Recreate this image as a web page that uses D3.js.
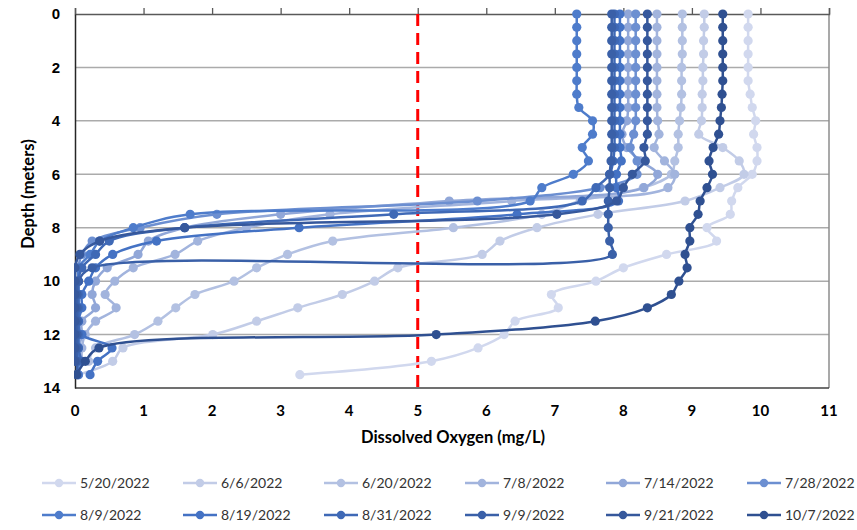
<!DOCTYPE html>
<meta charset="utf-8">
<style>
body { margin: 0; background: #fff; }
svg { font-family: Lato, "Open Sans", sans-serif; }
.tick text { font-size: 15px; fill: #000; font-weight: bold; }
.xlab { font-size: 15px; font-weight: bold; }
.title { font-size: 16.5px; font-weight: bold; }
.legend text { font-size: 14px; fill: #333; }
</style>
<svg width="857" height="530"></svg>
<script src="https://cdn.jsdelivr.net/npm/d3@7"></script>
<script>

// depth of each reading (m)
var depths = [0, 0.5, 1, 1.5, 2, 2.5, 3, 3.5, 4, 4.5, 5, 5.5, 6, 6.5, 7, 7.5, 8, 8.5, 9, 9.5, 10, 10.5, 11, 11.5, 12, 12.5, 13, 13.5];

var dates = ["5/20/2022", "6/6/2022", "6/20/2022", "7/8/2022", "7/14/2022", "7/28/2022",
             "8/9/2022", "8/19/2022", "8/31/2022", "9/9/2022", "9/21/2022", "10/7/2022"];

// dissolved oxygen (mg/L) per sampling date, read top to bottom
var do_0520 = [9.82, 9.82, 9.82, 9.82, 9.82, 9.82, 9.85, 9.88, 9.93, 9.9, 9.95, 9.95, 9.88, 9.67, 9.58, 9.56, 9.22, 9.36, 8.63, 8.0, 7.6, 6.95, 7.05, 6.42, 6.26, 5.88, 5.2, 3.28];
var do_0606 = [9.18, 9.18, 9.17, 9.17, 9.16, 9.16, 9.15, 9.15, 9.14, 9.1, 9.45, 9.69, 9.76, 9.41, 8.9, 7.63, 6.74, 6.2, 5.94, 4.71, 4.37, 3.9, 3.25, 2.65, 2.01, 0.7, 0.55, 0.05];
var do_0620 = [8.86, 8.86, 8.86, 8.86, 8.85, 8.85, 8.85, 8.84, 8.82, 8.8, 8.8, 8.75, 8.7, 8.29, 7.37, 6.81, 5.52, 3.76, 3.1, 2.65, 2.32, 1.75, 1.47, 1.21, 0.87, 0.3, 0.2];
var do_0708 = [8.49, 8.49, 8.49, 8.49, 8.49, 8.49, 8.49, 8.49, 8.5, 8.52, 8.45, 8.6, 8.75, 8.65, 6.37, 3.72, 2.5, 1.79, 1.46, 0.85, 0.58, 0.44, 0.6, 0.3, 0.15, 0.1, 0.1];
var do_0714 = [8.07, 8.07, 8.07, 8.07, 8.07, 8.07, 8.07, 8.07, 8.05, 7.98, 8.05, 8.25, 8.5, 8.3, 5.46, 3.0, 1.6, 1.07, 0.92, 0.47, 0.3, 0.25, 0.3, 0.1, 0.1, 0.05];
var do_0728 = [8.18, 8.18, 8.18, 8.18, 8.18, 8.18, 8.18, 8.18, 8.18, 8.15, 8.1, 8.2, 8.2, 7.66, 5.87, 2.07, 0.95, 0.25, 0.1, 0.05, 0.05, 0.05, 0.05, 0.05, 0.05, 0.05, 0.05, 0.05];
var do_0809 = [7.32, 7.32, 7.32, 7.32, 7.32, 7.32, 7.32, 7.35, 7.55, 7.55, 7.4, 7.49, 7.27, 6.81, 6.64, 1.68, 0.85, 0.36, 0.22, 0.05, 0.05, 0.05, 0.05, 0.05, 0.05, 0.05, 0.05, 0.05];
var do_0819 = [7.95, 7.95, 7.95, 7.95, 7.95, 7.95, 7.95, 7.95, 7.95, 7.95, 7.95, 7.97, 7.9, 7.9, 7.93, 6.45, 3.27, 1.19, 0.55, 0.3, 0.2, 0.1, 0.1, 0.05, 0.1, 0.54, 0.33, 0.22];
var do_0831 = [7.87, 7.87, 7.87, 7.87, 7.87, 7.87, 7.87, 7.87, 7.87, 7.87, 7.87, 7.85, 7.8, 7.6, 7.4, 4.65, 1.6, 0.5, 0.3, 0.1, 0.05, 0.05, 0.05, 0.05, 0.05, 0.05, 0.1];
var do_0909 = [7.83, 7.83, 7.83, 7.83, 7.83, 7.83, 7.83, 7.83, 7.83, 7.83, 7.83, 7.82, 7.8, 7.8, 7.78, 7.78, 7.78, 7.8, 7.84, 0.25, 0.05, 0.03, 0.03, 0.03, 0.03, 0.03, 0.03, 0.03];
var do_0921 = [8.35, 8.35, 8.35, 8.35, 8.35, 8.35, 8.35, 8.35, 8.35, 8.35, 8.3, 8.32, 8.13, 8.0, 7.9, 7.03, 1.6, 0.36, 0.07, 0.0, 0.0, 0.0, 0.0, 0.0, 0.0, 0.0, 0.0];
var do_1007 = [9.45, 9.45, 9.45, 9.45, 9.45, 9.45, 9.44, 9.43, 9.41, 9.39, 9.31, 9.25, 9.3, 9.22, 9.12, 9.09, 8.97, 8.97, 8.9, 8.93, 8.81, 8.7, 8.35, 7.59, 5.27, 0.35, 0.15, 0.02];

var profiles = [do_0520, do_0606, do_0620, do_0708, do_0714, do_0728,
                do_0809, do_0819, do_0831, do_0909, do_0921, do_1007];

var colors = ["#D1D8EE", "#C2CCE7", "#B3C1E2", "#A2B4DD", "#91A7D8", "#6C8FD1",
              "#4E7CCB", "#4472C4", "#3F69B6", "#3A60A8", "#36589C", "#2F5091"];

var xTicks = d3.range(0, 12),
    yTicks = d3.range(0, 15, 2);

var threshold = 5;

var svg = d3.select("svg"),
    margin = {top: 14, right: 28, bottom: 142, left: 75},
    width = +svg.attr("width") - margin.left - margin.right,
    height = +svg.attr("height") - margin.top - margin.bottom;

var x = d3.scaleLinear().domain([0, 11]).range([0, width]),
    y = d3.scaleLinear().domain([0, 14]).range([0, height]);

svg.append("clipPath").attr("id", "plot")
  .append("rect").attr("x", -1).attr("y", -6).attr("width", width + 2).attr("height", height + 7);

var g = svg.append("g")
    .attr("transform", "translate(" + margin.left + "," + margin.top + ")");

// horizontal gridlines
g.selectAll(".grid")
    .data(yTicks.slice(1, -1))
  .enter().append("line")
    .attr("x1", 0).attr("x2", width)
    .attr("y1", function(d) { return y(d); })
    .attr("y2", function(d) { return y(d); })
    .attr("stroke", "#ABABAB")
    .attr("stroke-width", 1.5);

// frame: right and bottom
g.append("line").attr("x1", width).attr("x2", width).attr("y1", 0).attr("y2", height)
    .attr("stroke", "#8C8C8C").attr("stroke-width", 1.5);
g.append("line").attr("x1", 0).attr("x2", width).attr("y1", height).attr("y2", height)
    .attr("stroke", "#404040").attr("stroke-width", 1.5);

// x axis sits on top (ticks pointing up), labels drawn at the bottom
var xAxis = g.append("g")
    .call(d3.axisTop(x).tickValues(xTicks).tickSize(6).tickFormat(""));
xAxis.select(".domain").attr("stroke", "#595959").attr("stroke-width", 1.5);
xAxis.selectAll(".tick line").attr("stroke", "#595959").attr("stroke-width", 1.3);

g.selectAll(".xlab")
    .data(xTicks)
  .enter().append("text")
    .attr("class", "xlab")
    .attr("x", function(d) { return x(d); })
    .attr("y", height + 28)
    .attr("text-anchor", "middle")
    .text(function(d) { return d; });

var yAxis = g.append("g")
    .call(d3.axisLeft(y).tickValues(yTicks).tickSize(0).tickPadding(15));
yAxis.select(".domain").attr("stroke", "#262626").attr("stroke-width", 1.5);

// dashed threshold
g.append("line")
    .attr("x1", x(threshold)).attr("x2", x(threshold))
    .attr("y1", 0).attr("y2", height)
    .attr("stroke", "#FF0000")
    .attr("stroke-width", 3)
    .attr("stroke-dasharray", "12,7");

var line = d3.line()
    .x(function(d) { return x(d[1]); })
    .y(function(d) { return y(d[0]); })
    .curve(d3.curveCatmullRom.alpha(0.5));

var series = g.append("g")
    .attr("clip-path", "url(#plot)")
  .selectAll(".series")
    .data(profiles)
  .enter().append("g")
    .attr("class", "series");

series.each(function(p, i) {
  var pts = p.map(function(v, j) { return [depths[j], v]; });
  var s = d3.select(this);
  s.append("path")
      .attr("d", line(pts))
      .attr("fill", "none")
      .attr("stroke", colors[i])
      .attr("stroke-width", 2.5);
  s.selectAll("circle")
      .data(pts)
    .enter().append("circle")
      .attr("cx", function(d) { return x(d[1]); })
      .attr("cy", function(d) { return y(d[0]); })
      .attr("r", 4.6)
      .attr("fill", colors[i]);
});

// axis titles
svg.append("text")
    .attr("class", "title")
    .attr("transform", "translate(28," + (margin.top + height / 2 - 7) + ") rotate(-90)")
    .attr("text-anchor", "middle")
    .attr("dy", "0.35em")
    .text("Depth (meters)");

svg.append("text")
    .attr("class", "title")
    .attr("x", margin.left + width / 2 + 1)
    .attr("y", 443)
    .attr("text-anchor", "middle")
    .text("Dissolved Oxygen (mg/L)");

// legend, 2 rows x 6
var legend = svg.append("g").attr("class", "legend");
var item = legend.selectAll("g")
    .data(dates)
  .enter().append("g")
    .attr("transform", function(d, i) {
      return "translate(" + (42 + (i % 6) * 141) + "," + (483 + Math.floor(i / 6) * 32) + ")";
    });
item.append("line")
    .attr("x1", 0).attr("x2", 34)
    .attr("stroke", function(d, i) { return colors[i]; })
    .attr("stroke-width", 2.5);
item.append("circle")
    .attr("cx", 17).attr("r", 4.2)
    .attr("fill", function(d, i) { return colors[i]; });
item.append("text")
    .attr("x", 38)
    .attr("dy", "0.35em")
    .text(function(d) { return d; });

</script>
